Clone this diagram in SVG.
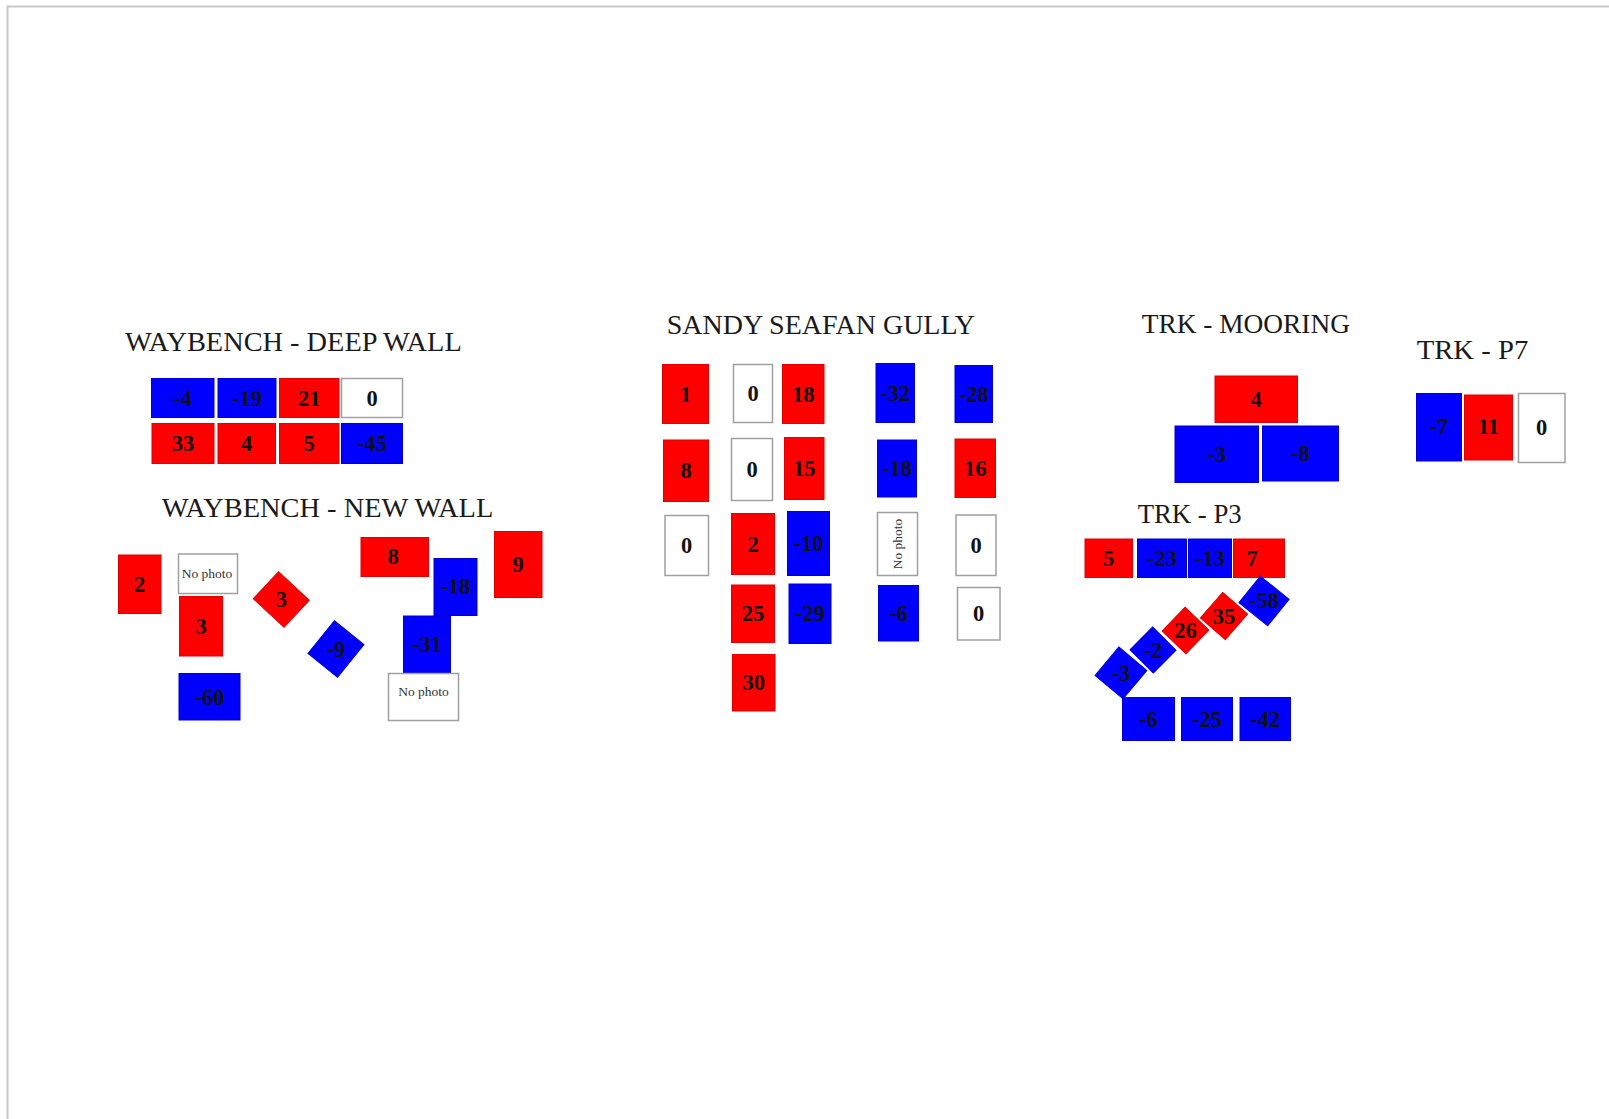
<svg xmlns="http://www.w3.org/2000/svg" width="1609" height="1119" viewBox="0 0 1609 1119">
<style>
.r{fill:#ff0000;stroke:#e00000;stroke-width:1}
.b{fill:#0000ff;stroke:#0000d0;stroke-width:1}
.w{fill:#ffffff;stroke:#a0a0a0;stroke-width:1.5}
.n{font-family:"Liberation Serif","Times New Roman",serif;font-weight:bold;font-size:22.5px;fill:#111;text-anchor:middle}
.np{font-family:"Liberation Serif","Times New Roman",serif;font-size:13.5px;fill:#333;text-anchor:middle}
.t{font-family:"Liberation Serif","Times New Roman",serif;font-size:28px;fill:#1a1a1a}
</style>
<rect width="1609" height="1119" fill="#ffffff"/>
<path d="M7.5 1119 V6.5 H1609" fill="none" stroke="#c8c8c8" stroke-width="2"/>

<g id="titles">
<text class="t" x="125" y="350.5" textLength="336.7" lengthAdjust="spacingAndGlyphs">WAYBENCH - DEEP WALL</text>
<text class="t" x="161.7" y="516.5" textLength="331.6" lengthAdjust="spacingAndGlyphs">WAYBENCH - NEW WALL</text>
<text class="t" x="666.7" y="334" textLength="308.3" lengthAdjust="spacingAndGlyphs">SANDY SEAFAN GULLY</text>
<text class="t" x="1141.7" y="332.5" textLength="208.3" lengthAdjust="spacingAndGlyphs">TRK - MOORING</text>
<text class="t" x="1416.7" y="359" textLength="111.6" lengthAdjust="spacingAndGlyphs">TRK - P7</text>
<text class="t" x="1137.7" y="523.3" textLength="104" lengthAdjust="spacingAndGlyphs">TRK - P3</text>
</g>

<g id="waybench-deep-wall">
<g id="wd1"><rect class="b" x="151.5" y="378.5" width="62.5" height="39"/><text class="n" x="182.7" y="405.5">-4</text></g>
<g id="wd2"><rect class="b" x="218" y="378.5" width="58" height="39"/><text class="n" x="247" y="405.5">-19</text></g>
<g id="wd3"><rect class="r" x="279.5" y="378.5" width="59.5" height="39"/><text class="n" x="309.2" y="405.5">21</text></g>
<g id="wd4"><rect class="w" x="341.5" y="378.5" width="61" height="39"/><text class="n" x="372" y="405.5">0</text></g>
<g id="wd5"><rect class="r" x="152" y="423.5" width="62" height="40"/><text class="n" x="183" y="451">33</text></g>
<g id="wd6"><rect class="r" x="218" y="423.5" width="57.5" height="40"/><text class="n" x="246.7" y="451">4</text></g>
<g id="wd7"><rect class="r" x="279.5" y="423.5" width="59.5" height="40"/><text class="n" x="309.2" y="451">5</text></g>
<g id="wd8"><rect class="b" x="341.5" y="423.5" width="61" height="40"/><text class="n" x="372" y="451">-45</text></g>
</g>

<g id="waybench-new-wall">
<g id="wn1"><rect class="r" x="118.5" y="555" width="42.5" height="58.5"/><text class="n" x="139.7" y="592">2</text></g>
<g id="wn2"><rect class="w" x="178.5" y="554" width="59" height="39.5"/><text class="np" x="207" y="578">No photo</text></g>
<g id="wn3"><rect class="r" x="179.5" y="596.5" width="43" height="59.5"/><text class="n" x="201" y="634">3</text></g>
<g id="wn4"><rect class="r" x="-21" y="-18.5" width="42" height="37" transform="translate(281.3 599.5) rotate(43)"/><text class="n" x="281.3" y="607">3</text></g>
<g id="wn5"><rect class="b" x="-19" y="-21" width="38" height="42" transform="translate(336 649) rotate(39)"/><text class="n" x="336" y="656.5">-9</text></g>
<g id="wn6"><rect class="b" x="179" y="673.5" width="61" height="46.5"/><text class="n" x="209.5" y="704.5">-60</text></g>
<g id="wn7"><rect class="r" x="361" y="537.5" width="67.5" height="39"/><text class="n" x="393" y="564">8</text></g>
<g id="wn8"><rect class="b" x="434" y="558.5" width="43" height="57"/><text class="n" x="455.5" y="594">-18</text></g>
<g id="wn9"><rect class="r" x="494.5" y="531.5" width="47.5" height="66"/><text class="n" x="518" y="572">9</text></g>
<g id="wn10"><rect class="b" x="403.5" y="616" width="47" height="56.5"/><text class="n" x="427" y="652">-31</text></g>
<g id="wn11"><rect class="w" x="388.5" y="673.5" width="70" height="47"/><text class="np" x="423.5" y="696">No photo</text></g>
</g>

<g id="sandy-seafan-gully">
<g id="sg1"><rect class="r" x="662.5" y="364.5" width="46" height="59"/><text class="n" x="685.5" y="401.5">1</text></g>
<g id="sg2"><rect class="w" x="733.5" y="364.5" width="39" height="58"/><text class="n" x="753" y="401">0</text></g>
<g id="sg3"><rect class="r" x="782.5" y="364.5" width="41.5" height="59"/><text class="n" x="803.2" y="401.5">18</text></g>
<g id="sg4"><rect class="b" x="876" y="363.5" width="38.5" height="59"/><text class="n" x="895.2" y="400.5">-32</text></g>
<g id="sg5"><rect class="b" x="955" y="365.5" width="37.5" height="57"/><text class="n" x="973.7" y="401.5">-28</text></g>
<g id="sg6"><rect class="r" x="663.5" y="440" width="45" height="61.5"/><text class="n" x="686" y="478">8</text></g>
<g id="sg7"><rect class="w" x="731.5" y="438.5" width="41" height="62"/><text class="n" x="752" y="477">0</text></g>
<g id="sg8"><rect class="r" x="784.5" y="437.5" width="39.5" height="62"/><text class="n" x="804.2" y="476">15</text></g>
<g id="sg9"><rect class="b" x="877.5" y="440" width="39" height="57"/><text class="n" x="897" y="476">-18</text></g>
<g id="sg10"><rect class="r" x="955" y="439" width="40.5" height="58.5"/><text class="n" x="975.2" y="476">16</text></g>
<g id="sg11"><rect class="w" x="665" y="515.5" width="43.5" height="60"/><text class="n" x="686.7" y="553">0</text></g>
<g id="sg12"><rect class="r" x="731.5" y="513.5" width="43" height="61"/><text class="n" x="753" y="551.5">2</text></g>
<g id="sg13"><rect class="b" x="787.5" y="511.5" width="42" height="64"/><text class="n" x="808.5" y="551">-10</text></g>
<g id="sg14"><rect class="w" x="877.5" y="512.5" width="40" height="63"/><text class="np" transform="translate(902 544) rotate(-90)" x="0" y="0">No photo</text></g>
<g id="sg15"><rect class="w" x="956" y="515" width="40" height="60.5"/><text class="n" x="976" y="552.5">0</text></g>
<g id="sg16"><rect class="r" x="731.5" y="585" width="43" height="57.5"/><text class="n" x="753" y="621">25</text></g>
<g id="sg17"><rect class="b" x="789" y="584" width="42" height="59.5"/><text class="n" x="810" y="621">-29</text></g>
<g id="sg18"><rect class="b" x="878.5" y="585.5" width="40" height="55.5"/><text class="n" x="898.5" y="620.5">-6</text></g>
<g id="sg19"><rect class="w" x="957.5" y="587.5" width="42.5" height="52.5"/><text class="n" x="978.7" y="621">0</text></g>
<g id="sg20"><rect class="r" x="732.5" y="654.5" width="42.5" height="56.5"/><text class="n" x="753.7" y="690">30</text></g>
</g>

<g id="trk-mooring">
<g id="tm1"><rect class="r" x="1215" y="376" width="82.5" height="46.5"/><text class="n" x="1256" y="407">4</text></g>
<g id="tm2"><rect class="b" x="1175" y="426" width="83.5" height="56.5"/><text class="n" x="1216.7" y="462">-3</text></g>
<g id="tm3"><rect class="b" x="1262.5" y="426" width="76" height="55"/><text class="n" x="1300.5" y="461">-8</text></g>
</g>

<g id="trk-p7">
<g id="t71"><rect class="b" x="1416.5" y="393.5" width="45" height="67.5"/><text class="n" x="1439" y="434">-7</text></g>
<g id="t72"><rect class="r" x="1464.5" y="395" width="48" height="65" /><text class="n" x="1488.5" y="434">11</text></g>
<g id="t73"><rect class="w" x="1518.5" y="393.5" width="46.5" height="69"/><text class="n" x="1541.7" y="435">0</text></g>
</g>

<g id="trk-p3">
<g id="t31"><rect class="r" x="1085" y="539" width="47.5" height="38.5"/><text class="n" x="1108.7" y="566">5</text></g>
<g id="t32"><rect class="b" x="1137.5" y="539" width="49" height="38.5"/><text class="n" x="1162" y="566">-23</text></g>
<g id="t33"><rect class="b" x="1188.5" y="539" width="43" height="38.5"/><text class="n" x="1210" y="566">-13</text></g>
<g id="t34"><rect class="r" x="1233.5" y="539" width="51" height="38.5"/><text class="n" x="1252" y="566">7</text></g>
<g id="t35"><rect class="b" x="-18.5" y="-17" width="37" height="34" transform="translate(1264 601) rotate(39)"/><text class="n" x="1264" y="608">-58</text></g>
<g id="t36"><rect class="r" x="-16.5" y="-17" width="33" height="34" transform="translate(1224 616) rotate(41)"/><text class="n" x="1224" y="623.5">35</text></g>
<g id="t37"><rect class="r" x="-16.5" y="-16.5" width="33" height="33" transform="translate(1185.5 630.5) rotate(44)"/><text class="n" x="1185.5" y="638">26</text></g>
<g id="t38"><rect class="b" x="-16.5" y="-16" width="33" height="32" transform="translate(1153 650) rotate(45)"/><text class="n" x="1153" y="657.5">-2</text></g>
<g id="t39"><rect class="b" x="-18.3" y="-18.5" width="36.5" height="37" transform="translate(1121 673) rotate(40)"/><text class="n" x="1121" y="680.5">-3</text></g>
<g id="t310"><rect class="b" x="1122.5" y="697.5" width="52" height="43"/><text class="n" x="1148.5" y="726.5">-6</text></g>
<g id="t311"><rect class="b" x="1181.5" y="697.5" width="51" height="43"/><text class="n" x="1207" y="726.5">-25</text></g>
<g id="t312"><rect class="b" x="1240" y="697.5" width="50.5" height="43"/><text class="n" x="1265.2" y="726.5">-42</text></g>
</g>
</svg>
